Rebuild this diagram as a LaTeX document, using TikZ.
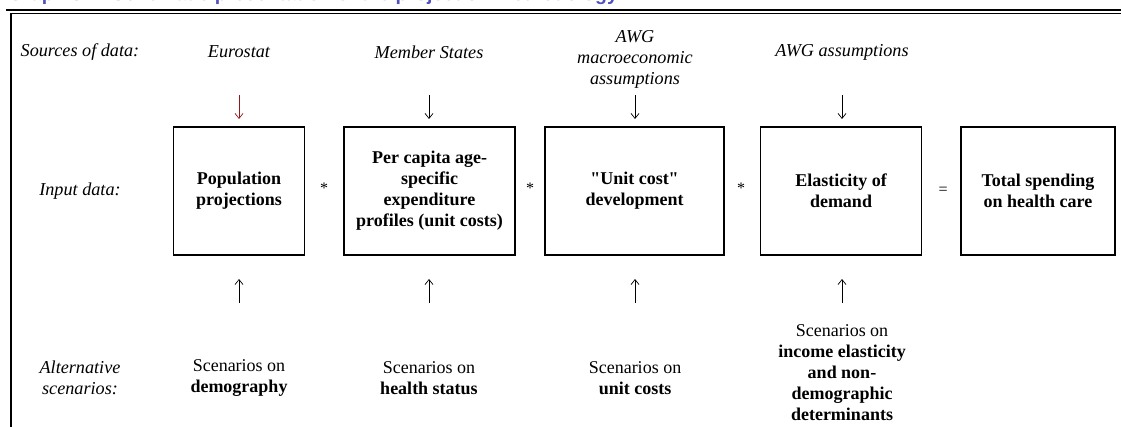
\documentclass[tikz,border=0pt]{standalone}
\usepackage{fontspec}
\setmainfont{Liberation Serif}
\newfontfamily\titlefont{Liberation Sans}
\newfontfamily\qfont{Liberation Serif}
\usetikzlibrary{arrows.meta}
\definecolor{titleblue}{RGB}{80,80,190}
\definecolor{arrowred}{RGB}{150,25,25}
\newcommand{\sq}{{\qfont\bfseries"}}
\begin{document}
\begin{tikzpicture}[x=1pt,y=-1pt,
  every node/.style={font=\fontsize{18}{21}\selectfont, align=center, inner sep=0pt},
  lbl/.style={font=\fontsize{18.2}{21}\selectfont\itshape},
  stepbox/.style={draw, line width=1.1pt, minimum height=128pt, font=\fontsize{18}{21}\selectfont\bfseries},
  conn/.style={line width=0.7pt, -{Straight Barb[length=5pt,width=8pt,line width=0.7pt]}},
  op/.style={font=\fontsize{16}{21}\selectfont}]
\useasboundingbox (0,0) rectangle (1121,427);
% cut-off title
\begin{scope}
  \clip (0,0) rectangle (1121,7);
  \node[anchor=base west, text=titleblue, font=\titlefont\bfseries\fontsize{19.5}{22}\selectfont] (title) at (8,0.3) {Graph 3.1: Schematic presentation of the projection methodology};
\end{scope}
% rules and frame
\draw[line width=2pt] (6,10) -- (1121,10);
\draw[line width=1.1pt] (1121,13.5) -- (11,13.5) -- (11,427);
% row labels
\node[lbl] (src) at (80,52) {Sources of data:};
\node[lbl] (inp) at (80,191) {Input data:};
\node[lbl] (alt) at (80,378) {Alternative\\scenarios:};
% sources
\node[lbl] (s1) at (239,52) {Eurostat};
\node[lbl] (s2) at (429,52) {Member States};
\node[lbl] (s3) at (635,59) {AWG\\macroeconomic\\assumptions};
\node[lbl] (s4) at (842,52) {AWG assumptions};
% boxes
\node[stepbox, minimum width=131pt] (b1) at (239,191) {Population\\projections};
\node[stepbox, minimum width=171pt] (b2) at (429.5,191) {Per capita age-\\specific\\expenditure\\profiles (unit costs)};
\node[stepbox, minimum width=179pt] (b3) at (634.5,191) {\sq Unit cost\sq\\development};
\node[stepbox, minimum width=161pt] (b4) at (841,191) {Elasticity of\\demand};
\node[stepbox, minimum width=154pt] (b5) at (1038,191) {Total spending\\on health care};
% operators
\node[op] (o1) at (324,188) {*};
\node[op] (o2) at (530,188) {*};
\node[op] (o3) at (741,188) {*};
\node[op] (o4) at (943,191) {=};
% scenarios
\node (c1) at (239,378) {Scenarios on\\\textbf{demography}};
\node (c2) at (429,378) {Scenarios on\\\textbf{health status}};
\node (c3) at (635,378) {Scenarios on\\\textbf{unit costs}};
\node (c4) at (842,372.5) {Scenarios on\\\textbf{income elasticity}\\\textbf{and non-}\\\textbf{demographic}\\\textbf{determinants}};
% arrow end points
\foreach \i/\x in {1/239,2/429,3/635,4/842}{
  \coordinate (d\i s) at (\x,95);
  \coordinate (d\i e) at (\x,119);
  \coordinate (u\i s) at (\x,303);
  \coordinate (u\i e) at (\x,279);
}
\draw[conn, draw=arrowred] (d1s) -- (d1e);
\draw[conn] (d2s) -- (d2e);
\draw[conn] (d3s) -- (d3e);
\draw[conn] (d4s) -- (d4e);
\draw[conn] (u1s) -- (u1e);
\draw[conn] (u2s) -- (u2e);
\draw[conn] (u3s) -- (u3e);
\draw[conn] (u4s) -- (u4e);
\end{tikzpicture}
\end{document}
